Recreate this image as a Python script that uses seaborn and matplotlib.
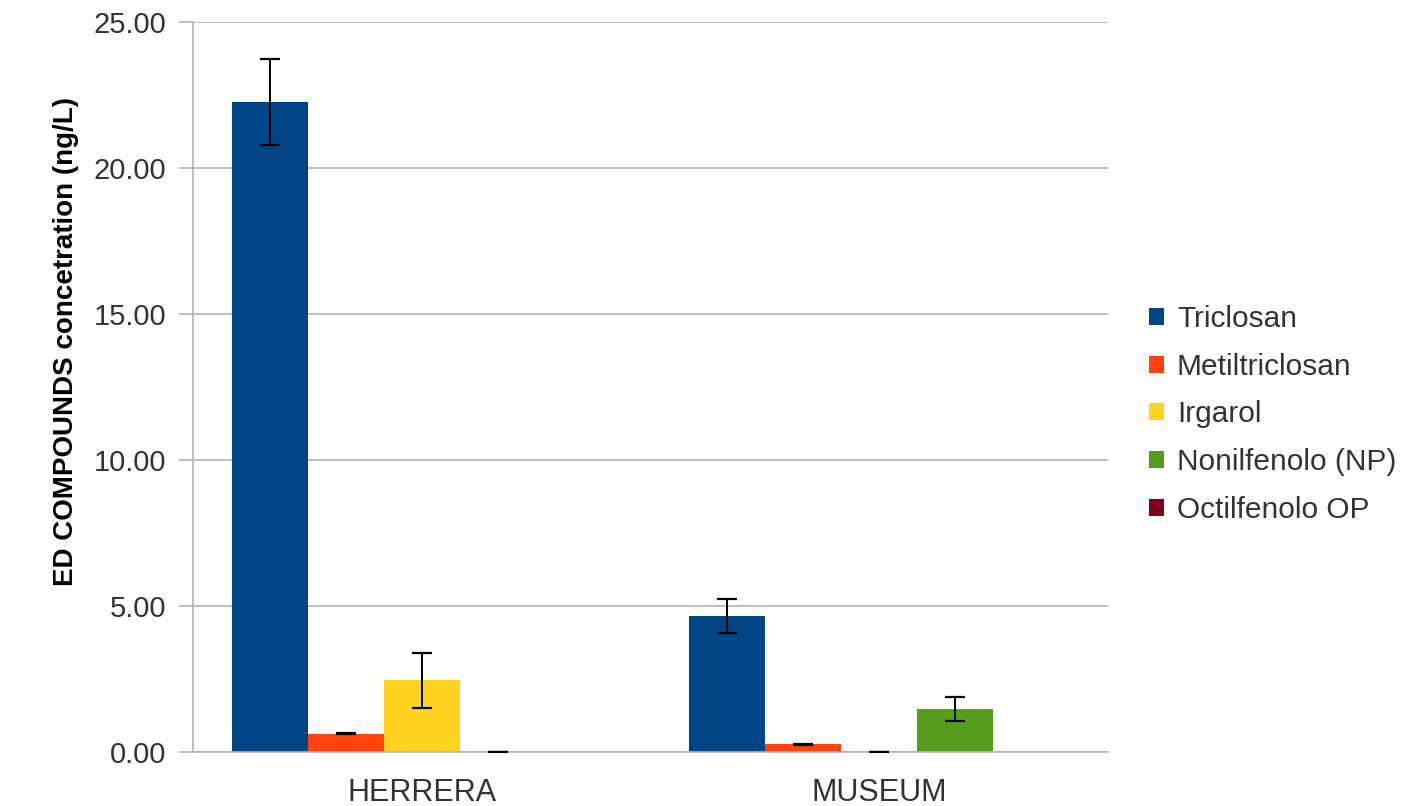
import numpy as np
import pandas as pd
import matplotlib
matplotlib.use("Agg")
import matplotlib.pyplot as plt
import seaborn as sns

# Sampling sites and measured endocrine-disrupting compounds
sites = ["HERRERA", "MUSEUM"]
compounds = ["Triclosan", "Metiltriclosan", "Irgarol", "Nonilfenolo (NP)", "Octilfenolo OP"]

# Mean concentrations (ng/L), one list per site, in compound order
herrera_mean = [22.26, 0.62, 2.45, 0.00, 0.00]
museum_mean = [4.66, 0.27, 0.00, 1.48, 0.00]

# Standard deviations (NaN where no error bar is reported)
herrera_sd = [1.47, 0.02, 0.93, 0.01, np.nan]
museum_sd = [0.59, 0.02, 0.01, 0.41, np.nan]

colors = ["#004586", "#ff420e", "#ffd320", "#579d1c", "#7e0021"]

rows = []
for site, means, sds in [(sites[0], herrera_mean, herrera_sd), (sites[1], museum_mean, museum_sd)]:
    for comp, m, s in zip(compounds, means, sds):
        rows.append({"site": site, "compound": comp, "value": m, "sd": s})
df = pd.DataFrame(rows)

sns.set_theme(style="white")
plt.rcParams["font.family"] = ["Liberation Sans", "DejaVu Sans"]

fig = plt.figure(figsize=(14.12, 8.06), dpi=100)
ax = fig.add_axes([193 / 1412, 1 - 752 / 806, (1108 - 193) / 1412, (752 - 22) / 806])

sns.barplot(data=df, x="site", y="value", hue="compound", order=sites,
            hue_order=compounds, palette=colors, errorbar=None,
            width=0.83, saturation=1, linewidth=0, ax=ax)

# Error bars on each bar, positioned from the drawn patches
for comp, container in zip(compounds, ax.containers):
    sub = df[df["compound"] == comp].set_index("site").loc[sites]
    for patch, (_, r) in zip(container.patches, sub.iterrows()):
        if np.isnan(r["sd"]):
            continue
        cx = patch.get_x() + patch.get_width() / 2
        ax.errorbar(cx, r["value"], yerr=r["sd"], fmt="none", ecolor="black",
                    elinewidth=1.4, capsize=7, capthick=1.6, zorder=5)

ax.set_ylim(0, 25)
ax.set_xlim(-0.5, 1.5)
ax.set_yticks(np.arange(0, 25.01, 5))
ax.set_yticklabels([f"{v:.2f}" for v in np.arange(0, 25.01, 5)], fontsize=21, color="#333333")
ax.yaxis.grid(True, color="#b3b3b3", linewidth=1.2)
ax.set_axisbelow(True)

ax.set_xticks([0, 1])
ax.set_xticklabels(sites, fontsize=22, color="#333333")
ax.tick_params(axis="x", length=0, pad=19)
ax.set_xticks([-0.5, 0.5, 1.5], minor=True)
ax.tick_params(axis="x", which="minor", length=11, color="#b3b3b3", width=1.2, direction="out")
ax.tick_params(axis="y", length=10, color="#b3b3b3", width=1.2, direction="out", pad=9, left=True)

for side in ["top", "right"]:
    ax.spines[side].set_visible(False)
for side in ["left", "bottom"]:
    ax.spines[side].set_color("#b3b3b3")
    ax.spines[side].set_linewidth(1.2)

ax.set_xlabel("")
ax.set_ylabel("ED COMPOUNDS concetration (ng/L)", fontsize=20, fontweight="bold",
              color="black")
ax.yaxis.set_label_coords(-0.125, 0.562)

handles, labels = ax.get_legend_handles_labels()
ax.legend(handles, labels, loc="center left", bbox_to_anchor=(1.015, 0.4625),
          frameon=False, fontsize=21.5, handlelength=0.5, handleheight=0.5,
          handletextpad=0.45, labelspacing=0.66, labelcolor="#333333")

fig.savefig("out.png", dpi=100)
